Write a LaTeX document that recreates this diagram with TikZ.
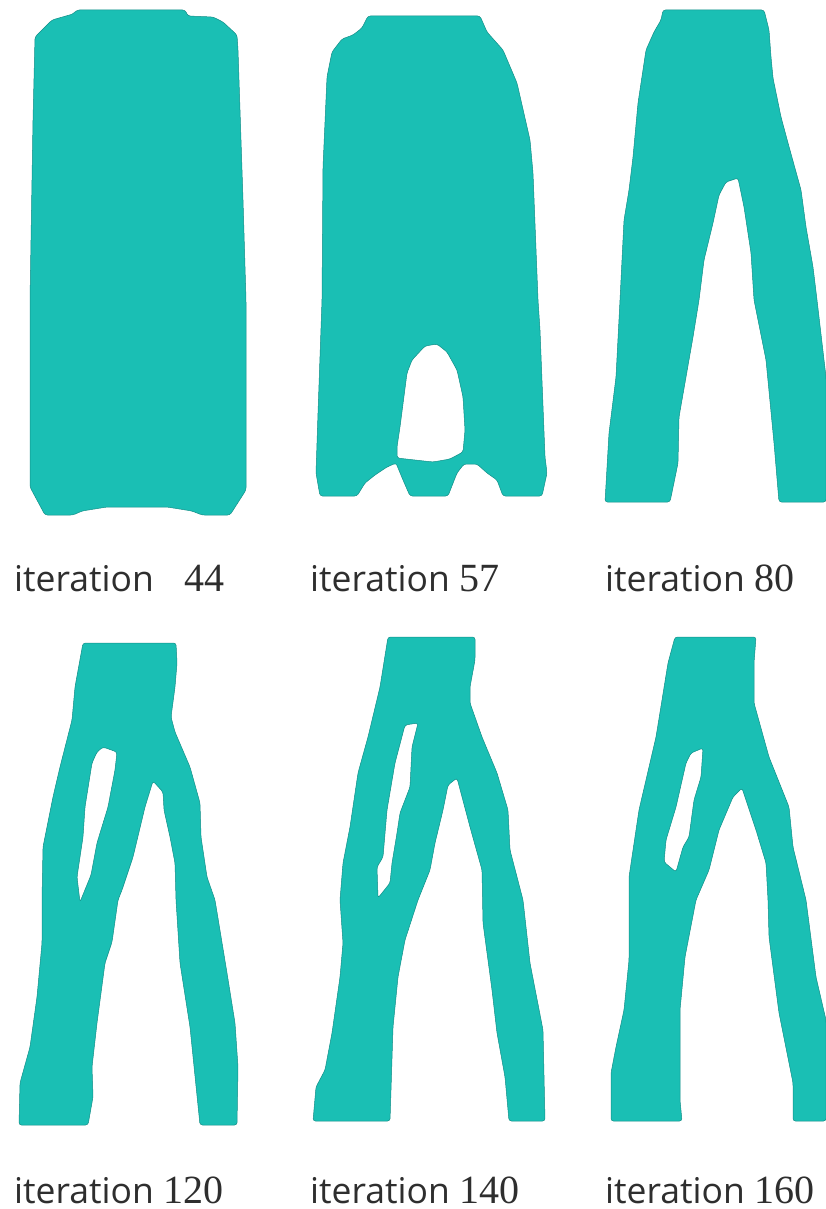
\documentclass[tikz,border=0pt]{standalone}
\usepackage{fontspec}
\setmainfont{Open Sans}
\newfontfamily\numfont{Liberation Serif}
\definecolor{tealfill}{HTML}{1ABFB4}
\definecolor{tealedge}{HTML}{128F88}
\newcommand{\capnum}[1]{{\numfont\fontsize{40}{42}\selectfont #1}}
\begin{document}
\begin{tikzpicture}[x=1pt, y=-1pt,
    piece/.style={fill=tealfill, draw=tealedge, line width=0.5pt, even odd rule, rounded corners=2.5pt, line join=round},
    caption/.style={anchor=base west, inner sep=0pt, text=black!82, font=\fontsize{35.5}{40}\selectfont}]
    \useasboundingbox[fill=white] (0,0) rectangle (826,1209);
    % iteration 44
    \path[piece] (77,10) -- (185,10) -- (188,16) -- (213,17) -- (223,22) -- (237,35) -- (238,50) -- (243,200) -- (246,300) -- (246,490) -- (230,515) -- (202,515) -- (192,511) -- (167,507) -- (107,507) -- (82,511) -- (73,515) -- (45,515) -- (30,487) -- (30,300) -- (33,120) -- (35,37) -- (52,20) -- (73,14) -- cycle;
    % iteration 57
    \path[piece] (368,16) -- (480,16) -- (487,32) -- (503,50) -- (517,83) -- (530,140) -- (533,173) -- (538,300) -- (540,330) -- (545,457) -- (547,473) -- (542,496) -- (503,496) -- (497,480) -- (487,473) -- (477,464) -- (464,464) -- (457,473) -- (448,496) -- (410,496) -- (403,480) -- (396,463) -- (387,467) -- (375,475) -- (365,483) -- (357,496) -- (320,496) -- (316,473) -- (318,413) -- (322,300) -- (323,167) -- (327,77) -- (332,52) -- (342,39) -- (353,35) -- (362,28) -- cycle
      (397,458) -- (397,447) -- (400,427) -- (407,373) -- (412,360) -- (425,346) -- (437,344) -- (447,352) -- (457,370) -- (463,397) -- (465,430) -- (463,452) -- (450,459) -- (433,462) -- cycle;
    % iteration 80
    \path[piece] (663,10) -- (764,10) -- (769,30) -- (771,57) -- (773,78) -- (781,117) -- (788,143) -- (801,190) -- (806,227) -- (813,267) -- (817,300) -- (826,377) -- (826,502) -- (779,502) -- (774,443) -- (766,360) -- (754,300) -- (751,253) -- (744,207) -- (738,178) -- (726,182) -- (719,195) -- (713,223) -- (704,260) -- (699,300) -- (693,337) -- (679,417) -- (678,463) -- (670,502) -- (605,502) -- (609,433) -- (616,377) -- (620,300) -- (624,220) -- (629,190) -- (633,157) -- (638,103) -- (646,50) -- (654,32) -- (661,20) -- cycle;
    % iteration 120
    \path[piece] (83,643) -- (176,643) -- (177,663) -- (175,687) -- (171,717) -- (175,732) -- (190,767) -- (200,803) -- (201,837) -- (207,877) -- (215,900) -- (227,973) -- (235,1023) -- (238,1067) -- (237,1125) -- (200,1125) -- (190,1027) -- (180,963) -- (176,900) -- (175,863) -- (170,837) -- (164,810) -- (163,792) -- (153,781) -- (145,807) -- (133,857) -- (122,890) -- (118,900) -- (112,942) -- (105,963) -- (97,1023) -- (92,1067) -- (93,1097) -- (88,1125) -- (19,1125) -- (20,1083) -- (30,1047) -- (37,997) -- (42,943) -- (42,900) -- (43,847) -- (53,797) -- (60,767) -- (72,720) -- (75,687) -- cycle
      (103,747) -- (117,752) -- (115,770) -- (108,807) -- (97,843) -- (91,875) -- (80,902) -- (77,877) -- (83,837) -- (85,807) -- (92,763) -- (97,752) -- cycle;
    % iteration 140
    \path[piece] (388,637) -- (475,637) -- (475,660) -- (470,687) -- (470,703) -- (482,737) -- (497,773) -- (508,810) -- (510,850) -- (523,900) -- (530,963) -- (543,1030) -- (545,1121) -- (509,1121) -- (505,1077) -- (497,1033) -- (492,990) -- (483,923) -- (482,870) -- (470,827) -- (457,778) -- (448,785) -- (443,810) -- (435,843) -- (430,870) -- (418,900) -- (405,940) -- (398,977) -- (393,1027) -- (391,1090) -- (390,1121) -- (313,1121) -- (316,1087) -- (325,1070) -- (332,1033) -- (340,977) -- (343,943) -- (340,900) -- (343,863) -- (350,827) -- (358,773) -- (368,737) -- (380,687) -- cycle
      (405,725) -- (418,723) -- (412,747) -- (410,787) -- (400,813) -- (397,833) -- (392,863) -- (390,883) -- (378,898) -- (377,867) -- (383,857) -- (387,810) -- (395,763) -- cycle;
    % iteration 160
    \path[piece] (675,637) -- (756,637) -- (754,663) -- (754,703) -- (769,757) -- (789,807) -- (793,847) -- (806,900) -- (816,977) -- (826,1020) -- (826,1121) -- (793,1121) -- (793,1083) -- (779,1013) -- (769,937) -- (768,900) -- (766,863) -- (756,830) -- (742,788) -- (733,797) -- (719,830) -- (709,870) -- (696,900) -- (685,957) -- (680,1010) -- (680,1100) -- (682,1121) -- (611,1121) -- (611,1073) -- (616,1047) -- (624,1010) -- (629,960) -- (629,877) -- (639,810) -- (656,737) -- (668,663) -- cycle
      (703,748) -- (701,777) -- (694,800) -- (689,837) -- (683,847) -- (676,872) -- (664,862) -- (666,840) -- (676,807) -- (686,763) -- (691,753) -- cycle;
    \node[caption] (cap44) at (14,591) {iteration\hspace{31pt}\capnum{44}};
    \node[caption] (cap57) at (310,591) {iteration \capnum{57}};
    \node[caption] (cap80) at (605,591) {iteration \capnum{80}};
    \node[caption] (cap120) at (14,1203) {iteration \capnum{120}};
    \node[caption] (cap140) at (310,1203) {iteration \capnum{140}};
    \node[caption] (cap160) at (605,1203) {iteration \capnum{160}};
\end{tikzpicture}
\end{document}
